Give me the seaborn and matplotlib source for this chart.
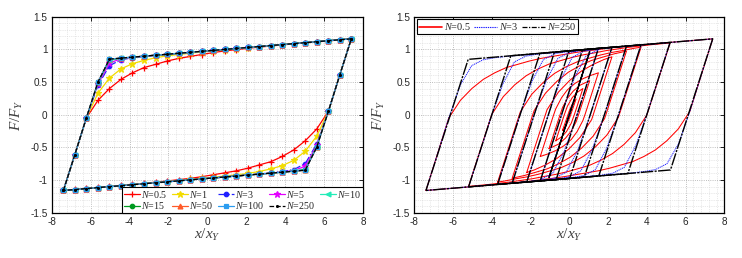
import pandas as pd
import matplotlib
matplotlib.use("Agg")
import matplotlib.pyplot as plt
from matplotlib.lines import Line2D
from matplotlib.ticker import MultipleLocator
import seaborn as sns

# ---- axis ticks ----
x_ticks = [-8, -6, -4, -2, 0, 2, 4, 6, 8]
x_tick_labels = ["-8", "-6", "-4", "-2", "0", "2", "4", "6", "8"]
y_ticks = [-1.5, -1, -0.5, 0, 0.5, 1, 1.5]
y_tick_labels = ["-1.5", "-1", "-0.5", "0", "0.5", "1", "1.5"]

# ---- left panel: loading branch of the largest loop (unloading branch is point-symmetric) ----
x_branch = [-7.4, -6.81, -6.22, -5.62, -5.03, -4.44, -3.85, -3.26, -2.66, -2.07, -1.48, -0.89, -0.3,
            0.3, 0.89, 1.48, 2.07, 2.66, 3.26, 3.85, 4.44, 5.03, 5.62, 6.22, 6.81, 7.4]
n_labels = ["0.5", "1", "3", "5", "10", "15", "50", "100", "250"]
F_n05 = [-1.16, -0.61, -0.05, 0.22, 0.40, 0.54, 0.64, 0.72, 0.77, 0.82, 0.86, 0.89, 0.92,
         0.95, 0.975, 0.995, 1.015, 1.033, 1.05, 1.067, 1.083, 1.098, 1.113, 1.128, 1.144, 1.16]
F_n1 = [-1.16, -0.61, -0.05, 0.33, 0.56, 0.70, 0.78, 0.83, 0.87, 0.90, 0.92, 0.94, 0.958,
        0.975, 0.992, 1.01, 1.026, 1.042, 1.057, 1.072, 1.087, 1.101, 1.116, 1.131, 1.146, 1.16]
F_n3 = [-1.16, -0.61, -0.05, 0.45, 0.75, 0.84, 0.87, 0.89, 0.907, 0.922, 0.939, 0.954, 0.969,
        0.983, 0.998, 1.013, 1.028, 1.042, 1.057, 1.072, 1.087, 1.101, 1.116, 1.131, 1.146, 1.16]
F_n5 = [-1.16, -0.61, -0.05, 0.47, 0.79, 0.855, 0.877, 0.895, 0.91, 0.924, 0.939, 0.954, 0.969,
        0.983, 0.998, 1.013, 1.028, 1.042, 1.057, 1.072, 1.087, 1.101, 1.116, 1.131, 1.146, 1.16]
F_n10 = [-1.16, -0.61, -0.05, 0.49, 0.83, 0.862, 0.88, 0.895, 0.91, 0.924, 0.939, 0.954, 0.969,
         0.983, 0.998, 1.013, 1.028, 1.042, 1.057, 1.072, 1.087, 1.101, 1.116, 1.131, 1.146, 1.16]
F_n15 = [-1.16, -0.61, -0.05, 0.495, 0.845, 0.865, 0.88, 0.895, 0.91, 0.924, 0.939, 0.954, 0.969,
         0.983, 0.998, 1.013, 1.028, 1.042, 1.057, 1.072, 1.087, 1.101, 1.116, 1.131, 1.146, 1.16]
F_n50 = [-1.16, -0.61, -0.05, 0.50, 0.85, 0.865, 0.88, 0.895, 0.91, 0.924, 0.939, 0.954, 0.969,
         0.983, 0.998, 1.013, 1.028, 1.042, 1.057, 1.072, 1.087, 1.101, 1.116, 1.131, 1.146, 1.16]
F_n100 = F_n50
F_n250 = F_n50
n_colors = ["#ff0000", "#f2dc00", "#2020ff", "#e400ff", "#22ecb8", "#009a20", "#ff5a28", "#2a9cf0", "#000000"]
n_markers = ["+", "*", "o", "*", "<", "o", "^", "s", "."]
n_sizes = [5, 5, 3.2, 4.5, 3.5, 3.2, 3.5, 3.2, 2.6]
n_styles = ["-", "-", "-.", "-", "-", "-", "-", "-", "--"]

# ---- right panel: loading branches per cycle amplitude (unloading is point-symmetric) ----
red_x = [
    [-7.4, -6.22, -5.62, -5.03, -4.44, -3.85, -3.26, -2.66, -2.07, -1.48, -0.89, -0.3, 0.3, 0.89, 1.48, 2.07, 3.26, 4.44, 5.62, 7.4],
    [-5.2, -4.12, -4.0, -3.41, -2.82, -2.23, -1.64, -1.05, -0.46, 0.13, 0.72, 1.31, 1.9, 3.08, 4.28, 5.2],
    [-3.7, -2.65, -2.53, -1.94, -1.35, -0.76, -0.17, 0.42, 1.01, 1.6, 2.19, 2.78, 3.37, 3.7],
    [-2.95, -1.94, -1.82, -1.23, -0.64, -0.05, 0.54, 1.13, 1.72, 2.31, 2.95],
    [-2.2, -1.27, -1.15, -0.56, 0.03, 0.62, 1.21, 1.8, 2.2],
    [-1.5, -0.83, -0.7, -0.4, -0.1, 0.3, 0.7, 1.1, 1.5],
    [-1.05, -0.5, -0.35, -0.1, 0.2, 0.55, 1.05],
    [-0.7, -0.27, -0.1, 0.15, 0.4, 0.7],
    [-0.35, 0.0, 0.15, 0.35],
]
red_F = [
    [-1.16, -0.05, 0.22, 0.40, 0.54, 0.64, 0.72, 0.77, 0.82, 0.86, 0.89, 0.92, 0.95, 0.975, 0.995, 1.02, 1.055, 1.087, 1.116, 1.16],
    [-1.097, -0.103, 0.005, 0.275, 0.456, 0.595, 0.695, 0.774, 0.826, 0.875, 0.915, 0.946, 0.98, 1.031, 1.072, 1.097],
    [-1.032, -0.066, 0.042, 0.312, 0.492, 0.632, 0.732, 0.81, 0.862, 0.912, 0.952, 0.982, 1.017, 1.032],
    [-0.973, -0.048, 0.06, 0.329, 0.51, 0.65, 0.749, 0.828, 0.88, 0.93, 0.973],
    [-0.885, -0.032, 0.076, 0.346, 0.527, 0.666, 0.766, 0.845, 0.885],
    [-0.64, -0.02, 0.09, 0.26, 0.38, 0.48, 0.55, 0.60, 0.64],
    [-0.52, -0.02, 0.11, 0.25, 0.36, 0.45, 0.52],
    [-0.40, -0.01, 0.13, 0.26, 0.34, 0.40],
    [-0.24, 0.06, 0.16, 0.24],
]
blue_x = [
    [-7.4, -6.22, -5.63, -5.04, -4.45, -3.86, -3.27, 7.4],
    [-5.2, -4.02, -3.43, -2.84, -2.25, -1.66, 5.2],
    [-3.7, -2.52, -1.93, -1.34, -0.75, -0.16, 3.7],
    [-2.95, -1.77, -1.18, -0.59, 0.0, 0.59, 2.95],
    [-2.2, -1.02, -0.43, 0.16, 0.75, 1.34, 2.2],
    [-1.5, -0.32, 0.27, 0.86, 1.45, 1.5],
    [-1.05, 1.05],
]
blue_F = [
    [-1.16, -0.05, 0.45, 0.75, 0.84, 0.87, 0.89, 1.16],
    [-1.105, -0.02, 0.47, 0.805, 0.895, 0.925, 1.105],
    [-1.068, 0.02, 0.51, 0.843, 0.932, 0.962, 1.068],
    [-1.049, 0.04, 0.53, 0.861, 0.951, 0.981, 1.049],
    [-1.031, 0.055, 0.547, 0.88, 0.97, 1.0, 1.031],
    [-1.013, 0.073, 0.565, 0.897, 0.987, 1.013],
    [-0.95, 0.95],
]
black_x = [
    [-7.4, -5.22, 7.4],
    [-5.2, -3.02, 5.2],
    [-3.7, -1.52, 3.7],
    [-2.95, -0.77, 2.95],
    [-2.2, -0.02, 2.2],
    [-1.5, 0.68, 1.5],
    [-1.05, 1.05],
]
black_F = [
    [-1.16, 0.846, 1.16],
    [-1.105, 0.901, 1.105],
    [-1.068, 0.938, 1.068],
    [-1.049, 0.957, 1.049],
    [-1.031, 0.976, 1.031],
    [-1.013, 0.993, 1.013],
    [-0.966, 0.966],
]


def closed_loop(xs, Fs):
    # loading branch followed by the point-symmetric unloading branch
    return list(xs) + [-v for v in xs], list(Fs) + [-v for v in Fs]


def loops_frame(xs_list, Fs_list):
    rows = []
    for i, (xs, Fs) in enumerate(zip(xs_list, Fs_list)):
        lx, lF = closed_loop(xs, Fs)
        for a, b in zip(lx, lF):
            rows.append({"x": a, "F": b, "loop": i})
    return pd.DataFrame(rows)


sns.set_style("white")
plt.rcParams["font.family"] = ["Liberation Sans", "DejaVu Sans"]
plt.rcParams["axes.unicode_minus"] = False
plt.rcParams["mathtext.fontset"] = "custom"
plt.rcParams["mathtext.it"] = "Liberation Serif:italic"
plt.rcParams["mathtext.rm"] = "Liberation Serif"

fig = plt.figure(figsize=(7.42, 2.58), dpi=100)
ax1 = fig.add_axes([0.0697, 0.1756, 0.4195, 0.760])
ax2 = fig.add_axes([0.5584, 0.1756, 0.4178, 0.760])

# === left panel ===
n_series = [F_n05, F_n1, F_n3, F_n5, F_n10, F_n15, F_n50, F_n100, F_n250]
handles = []
for lab, Fs, col, mk, ms, ls in zip(n_labels, n_series, n_colors, n_markers, n_sizes, n_styles):
    lx, lF = closed_loop(x_branch, Fs)
    sns.lineplot(x=lx, y=lF, sort=False, estimator=None, ax=ax1, color=col, linestyle=ls,
                 linewidth=0.9, marker=mk, markersize=ms, markeredgecolor=col,
                 markerfacecolor=col, markeredgewidth=0.9)
    handles.append(Line2D([], [], color=col, linestyle=ls, linewidth=0.9, marker=mk,
                          markersize=ms, markeredgecolor=col, markerfacecolor=col,
                          markeredgewidth=0.9, label=r"$N$=" + lab))

order = [0, 5, 1, 6, 2, 7, 3, 8, 4]
leg1 = ax1.legend([handles[i] for i in order], [handles[i].get_label() for i in order],
                  loc="lower right", ncol=5, frameon=True, fancybox=False,
                  edgecolor="black", framealpha=1, borderaxespad=0.0, handlelength=1.6,
                  handletextpad=0.15, columnspacing=0.45, borderpad=0.15, labelspacing=0.05,
                  prop={"family": "Liberation Serif", "size": 7.2})
leg1.get_frame().set_linewidth(0.8)

# === right panel ===
df_red = loops_frame(red_x, red_F)
df_blue = loops_frame(blue_x, blue_F)
df_black = loops_frame(black_x, black_F)
sns.lineplot(data=df_red, x="x", y="F", units="loop", estimator=None, sort=False, ax=ax2,
             color="#ff0000", linewidth=0.75)
sns.lineplot(data=df_blue, x="x", y="F", units="loop", estimator=None, sort=False, ax=ax2,
             color="#1a1aff", linewidth=0.7, linestyle=(0, (1.2, 0.8)))
sns.lineplot(data=df_black, x="x", y="F", units="loop", estimator=None, sort=False, ax=ax2,
             color="#000000", linewidth=1.0, linestyle=(0, (9, 1, 1.5, 1)))

h2 = [Line2D([], [], color="#ff0000", linewidth=1.2, label=r"$N$=0.5"),
      Line2D([], [], color="#1a1aff", linewidth=0.8, linestyle=(0, (1.2, 0.8)), label=r"$N$=3"),
      Line2D([], [], color="#000000", linewidth=0.9, linestyle=(0, (4, 1.2, 1, 1.2)), label=r"$N$=250")]
leg2 = ax2.legend(handles=h2, loc="upper left", ncol=3, frameon=True, fancybox=False,
                  edgecolor="black", framealpha=1, borderaxespad=0.25, handlelength=2.2,
                  handletextpad=0.2, columnspacing=0.35, borderpad=0.2,
                  prop={"family": "Liberation Serif", "size": 7.4})
leg2.get_frame().set_linewidth(0.8)

for ax in (ax1, ax2):
    ax.set_xlim(-8, 8)
    ax.set_ylim(-1.5, 1.5)
    ax.set_xticks(x_ticks, labels=x_tick_labels)
    ax.set_yticks(y_ticks, labels=y_tick_labels)
    ax.xaxis.set_minor_locator(MultipleLocator(0.4))
    ax.yaxis.set_minor_locator(MultipleLocator(0.1))
    ax.grid(which="major", linestyle=":", color="#a8a8a8", linewidth=0.6)
    ax.grid(which="minor", linestyle=":", color="#d4d4d4", linewidth=0.5)
    ax.set_axisbelow(True)
    ax.tick_params(which="major", direction="in", length=3, width=0.6, top=True, right=True,
                   labelsize=7.2, colors="black", labelcolor="#262626", pad=3)
    ax.tick_params(which="minor", direction="in", length=0, top=True, right=True)
    for s in ax.spines.values():
        s.set_color("black")
        s.set_linewidth(0.9)
    ax.set_xlabel(r"$x/x_Y$", fontsize=11, color="#404040", labelpad=0)
    ax.set_ylabel(r"$F/F_Y$", fontsize=11, color="#404040", labelpad=4)

fig.savefig("out.png", dpi=100)
